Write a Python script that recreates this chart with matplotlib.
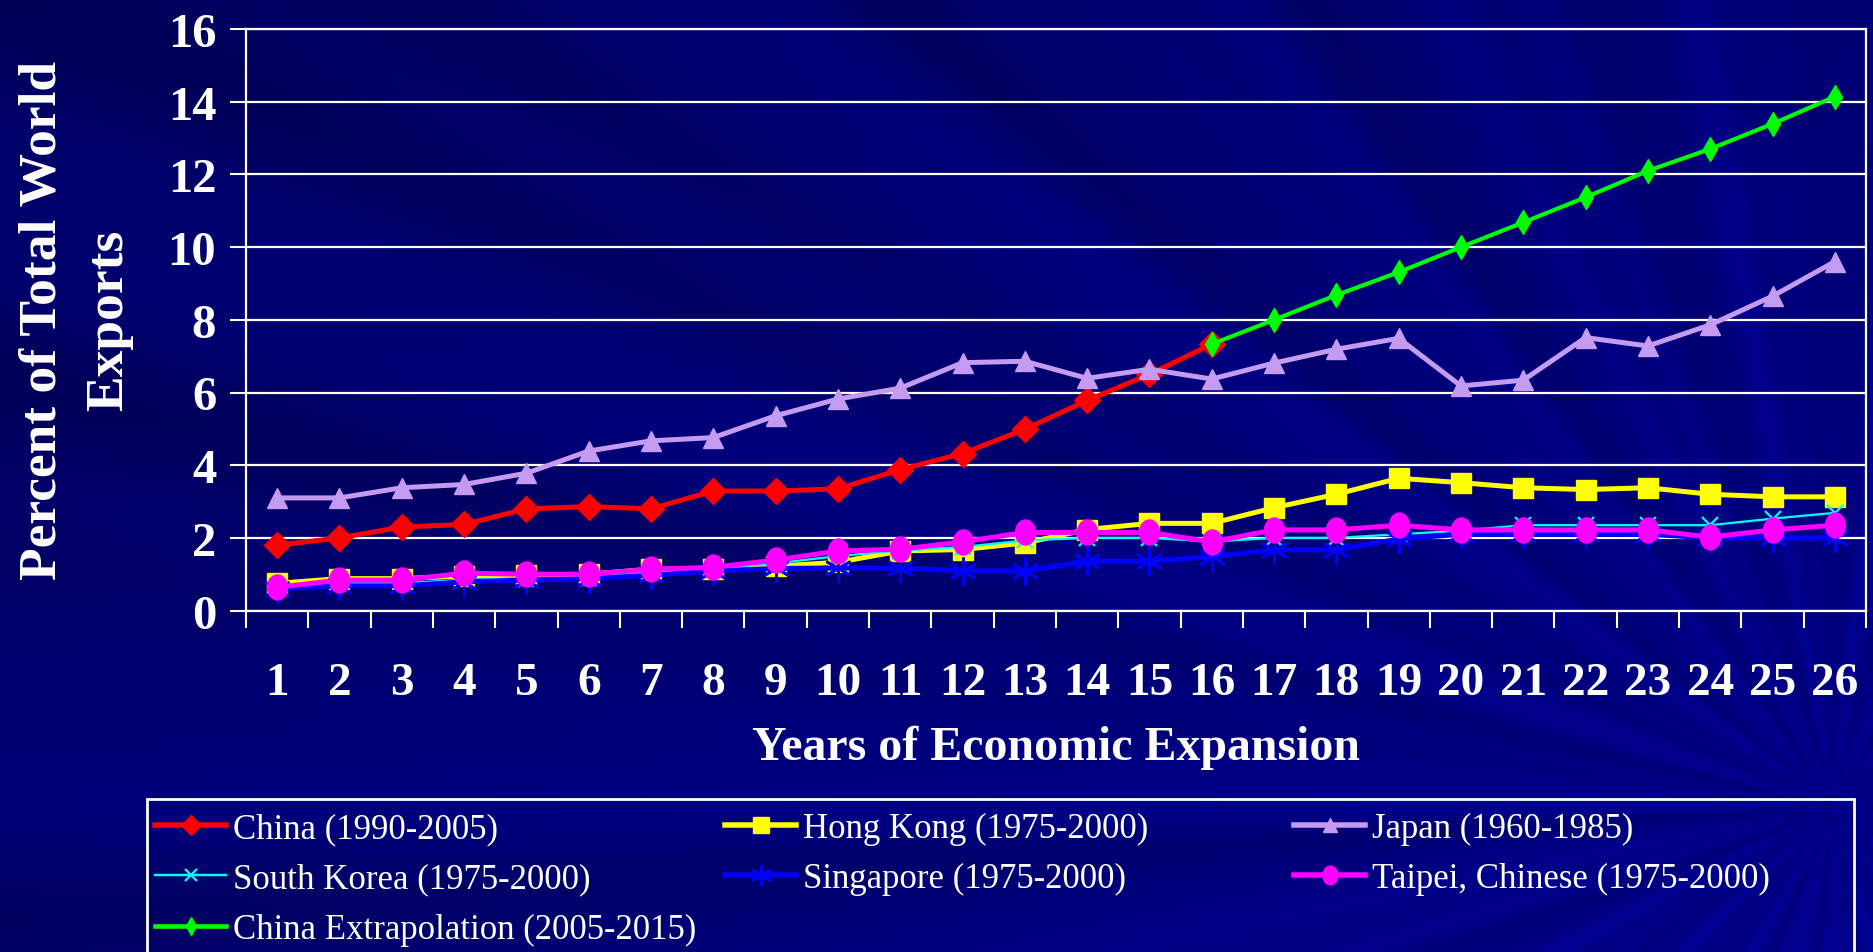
import numpy as np
import matplotlib
matplotlib.use("Agg")
import matplotlib.pyplot as plt
from matplotlib.path import Path
from matplotlib.patches import Rectangle
from matplotlib.lines import Line2D

# values (percent of total world exports)
years = np.arange(1, 27)
china_years = np.arange(1, 17)
china = [1.8, 2.0, 2.3, 2.37, 2.8, 2.86, 2.8, 3.29, 3.29, 3.35, 3.88, 4.32,
         4.99, 5.78, 6.5, 7.33]
hong_kong = [0.75, 0.88, 0.88, 0.95, 0.98, 1.0, 1.14, 1.14, 1.22, 1.33, 1.64,
             1.68, 1.86, 2.23, 2.4, 2.4, 2.83, 3.2, 3.64, 3.52, 3.38, 3.33,
             3.38, 3.2, 3.13, 3.13]
japan = [3.1, 3.1, 3.38, 3.47, 3.78, 4.39, 4.67, 4.76, 5.36, 5.82, 6.12,
         6.82, 6.86, 6.39, 6.64, 6.37, 6.81, 7.19, 7.49, 6.18, 6.34, 7.51,
         7.28, 7.86, 8.65, 9.6]
south_korea = [0.65, 0.75, 0.75, 0.85, 0.88, 0.9, 1.05, 1.15, 1.3, 1.5,
               1.65, 1.75, 1.93, 2.0, 2.0, 1.9, 2.0, 2.0, 2.1, 2.2, 2.35,
               2.35, 2.35, 2.35, 2.53, 2.69]
singapore = [0.6, 0.68, 0.68, 0.79, 0.84, 0.88, 0.97, 1.09, 1.16, 1.17, 1.17,
             1.09, 1.09, 1.36, 1.36, 1.48, 1.67, 1.67, 1.97, 2.1, 2.1, 2.1,
             2.1, 2.0, 2.0, 2.0]
taipei = [0.64, 0.84, 0.84, 1.03, 1.0, 1.0, 1.14, 1.19, 1.39, 1.64, 1.69,
          1.89, 2.15, 2.15, 2.15, 1.89, 2.22, 2.22, 2.35, 2.22, 2.22, 2.22,
          2.22, 2.02, 2.22, 2.35]
extrap_years = np.arange(16, 27)
china_extrap = [7.33, 8.0, 8.68, 9.31, 10.0, 10.68, 11.37, 12.1, 12.7,
                13.39, 14.14]

labels = ["China (1990-2005)", "Hong Kong (1975-2000)", "Japan (1960-1985)",
          "South Korea (1975-2000)", "Singapore (1975-2000)",
          "Taipei, Chinese (1975-2000)", "China Extrapolation (2005-2015)"]

SERIF = "Liberation Serif"
plt.rcParams["font.family"] = SERIF

W, H = 1873, 953
fig = plt.figure(figsize=(W / 100, H / 100), dpi=100)

# navy backdrop with faint rays
bg = fig.add_axes([0, 0, 1, 1], zorder=-10)
gx, gy = np.meshgrid(np.linspace(0, 1, 480), np.linspace(0, 1, 240))
theta = np.arctan2(0.85 - gy, (0.98 - gx) * 2.0)
rays = (np.sin(theta * 23 + 0.4) + 0.6 * np.sin(theta * 41 + 1.3)
        + 0.4 * np.sin(theta * 67 + 2.1))
blue = 0.37 + 0.17 * (0.6 * gx + 0.4 * gy) + 0.03 * rays
img = np.zeros(gx.shape + (3,))
img[..., 2] = np.clip(blue, 0, 1)
bg.imshow(img, aspect="auto", extent=(0, 1, 0, 1), origin="upper",
          interpolation="bilinear")
bg.set_axis_off()

ax = fig.add_axes([246 / W, 1 - 611.6 / H, (1866 - 246) / W, (611.6 - 30) / H])
ax.set_facecolor("none")

ellipse = Path(np.column_stack([0.8 * np.cos(np.linspace(0, 2 * np.pi, 60)),
                                np.sin(np.linspace(0, 2 * np.pi, 60))]))
asterisk = (6, 2, 0)

styles = [
    dict(color="#ff0000", marker="D", ms=13, lw=3.6),
    dict(color="#ffff00", marker="s", ms=15, lw=3.6),
    dict(color="#c49bf0", marker="^", ms=14, lw=3.6),
    dict(color="#00ffff", marker="x", ms=11, lw=1.6, mew=1.6),
    dict(color="#0000ff", marker=asterisk, ms=20, lw=3.6, mew=2),
    dict(color="#ff00ff", marker=ellipse, ms=18, lw=3.6),
    dict(color="#00ff00", marker="d", ms=12, lw=3.0),
]
series = [(china_years, china), (years, hong_kong), (years, japan),
          (years, south_korea), (years, singapore), (years, taipei),
          (extrap_years, china_extrap)]

for (xs, ys), st in zip(series, styles):
    ax.plot(xs, ys, color=st["color"], lw=st["lw"], marker=st["marker"],
            markersize=st["ms"], markerfacecolor=st["color"],
            markeredgecolor=st["color"], markeredgewidth=st.get("mew", 1),
            clip_on=False, solid_joinstyle="round")

ax.set_xlim(0.5, 26.5)
ax.set_ylim(0, 16)
ax.set_yticks(np.arange(0, 17, 2))
ax.set_xticks(years)
ax.set_xticks(np.arange(0.5, 27, 1), minor=True)
ax.grid(axis="y", color="white", lw=1.6)
for side in ["left", "bottom", "right", "top"]:
    ax.spines[side].set_color("white")
    ax.spines[side].set_linewidth(1.6)
ax.tick_params(axis="x", which="major", length=0, pad=37, labelsize=34,
               labelcolor="white")
ax.tick_params(axis="x", which="minor", length=12, width=1.5, color="white",
               direction="out")
ax.tick_params(axis="y", length=11.5, width=1.5, color="white", pad=10,
               labelsize=35, labelcolor="white")
for t in ax.get_xticklabels() + ax.get_yticklabels():
    t.set_fontweight("bold")

fig.text(76 / W, 1 - 320 / H, "Percent of Total World\nExports", rotation=90,
         ha="center", va="center", multialignment="center", linespacing=1.5,
         fontsize=38.5, fontweight="bold", color="white")
fig.text(1056 / W, 1 - 748 / H, "Years of Economic Expansion", ha="center",
         va="center", fontsize=34.5, fontweight="bold", color="white")

# legend: framed box with three equal-width columns
fig.patches.append(Rectangle((147 / W, -0.02), (1854 - 147) / W,
                             0.02 + 1 - 800 / H, transform=fig.transFigure,
                             facecolor="none", edgecolor="white", lw=2))
handles = []
for st in styles:
    handles.append(Line2D([], [], color=st["color"], lw=st["lw"] * 1.1,
                          marker=st["marker"], markersize=st["ms"] * 0.75,
                          markerfacecolor=st["color"],
                          markeredgecolor=st["color"],
                          markeredgewidth=st.get("mew", 1)))
columns = [[0, 3, 6], [1, 4], [2, 5]]
col_x = [155, 725, 1294]
for idx, cx in zip(columns, col_x):
    leg = fig.legend([handles[i] for i in idx], [labels[i] for i in idx],
                     loc="upper left", bbox_to_anchor=(cx / W, 1 - 813 / H),
                     frameon=False, fontsize=25, labelcolor="white",
                     handlelength=2.05, handletextpad=0.2, borderpad=0,
                     borderaxespad=0, labelspacing=0.5)

fig.savefig("out.png", dpi=100)
